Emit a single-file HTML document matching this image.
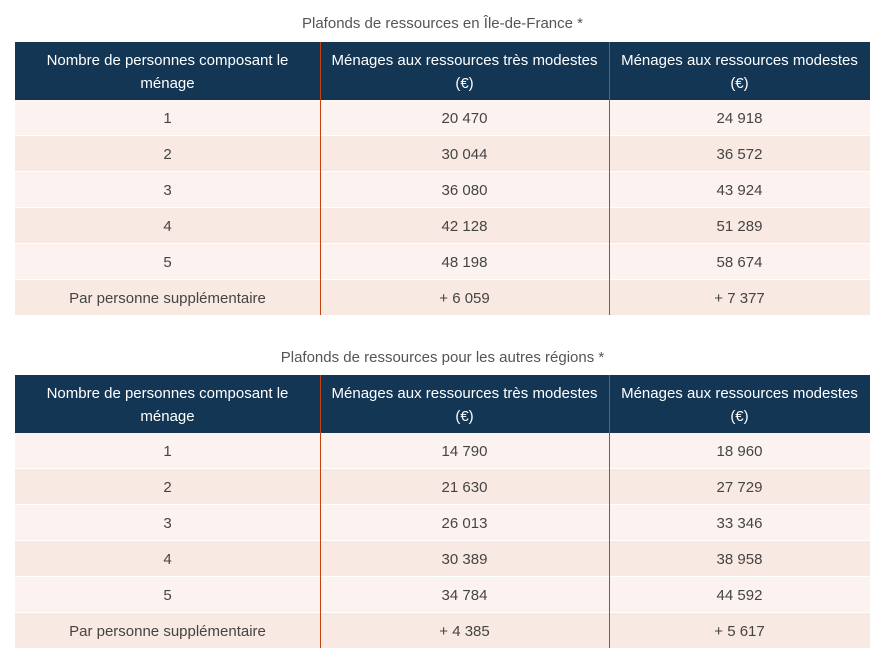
<!DOCTYPE html>
<html>
<head>
<meta charset="utf-8">
<style>
  html,body{margin:0;padding:0;background:#fff;}
  body{width:885px;height:661px;position:relative;overflow:hidden;font-family:"Liberation Sans",sans-serif;font-size:15px;}
  .title{position:absolute;left:0;width:885px;text-align:center;color:#555;line-height:20px;}
  .hdr{position:absolute;left:15px;width:855px;height:58px;background:#143655;}
  .hc{position:absolute;top:1px;height:58px;display:flex;align-items:center;justify-content:center;text-align:center;color:#fff;line-height:23px;box-sizing:border-box;padding:0;white-space:nowrap;}
  .row{position:absolute;left:15px;width:855px;height:35px;}
  .odd{background:#fcf3f0;}
  .even{background:#f9e9e3;}
  .c{position:absolute;top:1px;height:35px;line-height:35px;text-align:center;color:#444;}
  .c1{left:0;width:305px;}
  .c2{left:305px;width:289px;}
  .c3{left:594px;width:261px;}
  .vl{position:absolute;width:1px;background:#c4420f;}
</style>
</head>
<body>

<div class="title" style="top:14px;">Plafonds de ressources en Île-de-France *</div>
<div class="hdr" style="top:42px;">
  <div class="hc c1">Nombre de personnes composant le<br>ménage</div>
  <div class="hc c2">Ménages aux ressources très modestes<br>(€)</div>
  <div class="hc c3">Ménages aux ressources modestes<br>(€)</div>
</div>
<div class="row odd" style="top:100px;"><div class="c c1">1</div><div class="c c2">20 470</div><div class="c c3">24 918</div></div>
<div class="row even" style="top:136px;"><div class="c c1">2</div><div class="c c2">30 044</div><div class="c c3">36 572</div></div>
<div class="row odd" style="top:172px;"><div class="c c1">3</div><div class="c c2">36 080</div><div class="c c3">43 924</div></div>
<div class="row even" style="top:208px;"><div class="c c1">4</div><div class="c c2">42 128</div><div class="c c3">51 289</div></div>
<div class="row odd" style="top:244px;"><div class="c c1">5</div><div class="c c2">48 198</div><div class="c c3">58 674</div></div>
<div class="row even" style="top:280px;"><div class="c c1">Par personne supplémentaire</div><div class="c c2">+ 6 059</div><div class="c c3">+ 7 377</div></div>
<div class="vl" style="left:320px;top:42px;height:273px;"></div>
<div class="vl" style="left:609px;top:42px;height:273px;"></div>

<div class="title" style="top:348px;">Plafonds de ressources pour les autres régions *</div>
<div class="hdr" style="top:375px;">
  <div class="hc c1">Nombre de personnes composant le<br>ménage</div>
  <div class="hc c2">Ménages aux ressources très modestes<br>(€)</div>
  <div class="hc c3">Ménages aux ressources modestes<br>(€)</div>
</div>
<div class="row odd" style="top:433px;"><div class="c c1">1</div><div class="c c2">14 790</div><div class="c c3">18 960</div></div>
<div class="row even" style="top:469px;"><div class="c c1">2</div><div class="c c2">21 630</div><div class="c c3">27 729</div></div>
<div class="row odd" style="top:505px;"><div class="c c1">3</div><div class="c c2">26 013</div><div class="c c3">33 346</div></div>
<div class="row even" style="top:541px;"><div class="c c1">4</div><div class="c c2">30 389</div><div class="c c3">38 958</div></div>
<div class="row odd" style="top:577px;"><div class="c c1">5</div><div class="c c2">34 784</div><div class="c c3">44 592</div></div>
<div class="row even" style="top:613px;"><div class="c c1">Par personne supplémentaire</div><div class="c c2">+ 4 385</div><div class="c c3">+ 5 617</div></div>
<div class="vl" style="left:320px;top:375px;height:273px;"></div>
<div class="vl" style="left:609px;top:375px;height:273px;"></div>

</body>
</html>
